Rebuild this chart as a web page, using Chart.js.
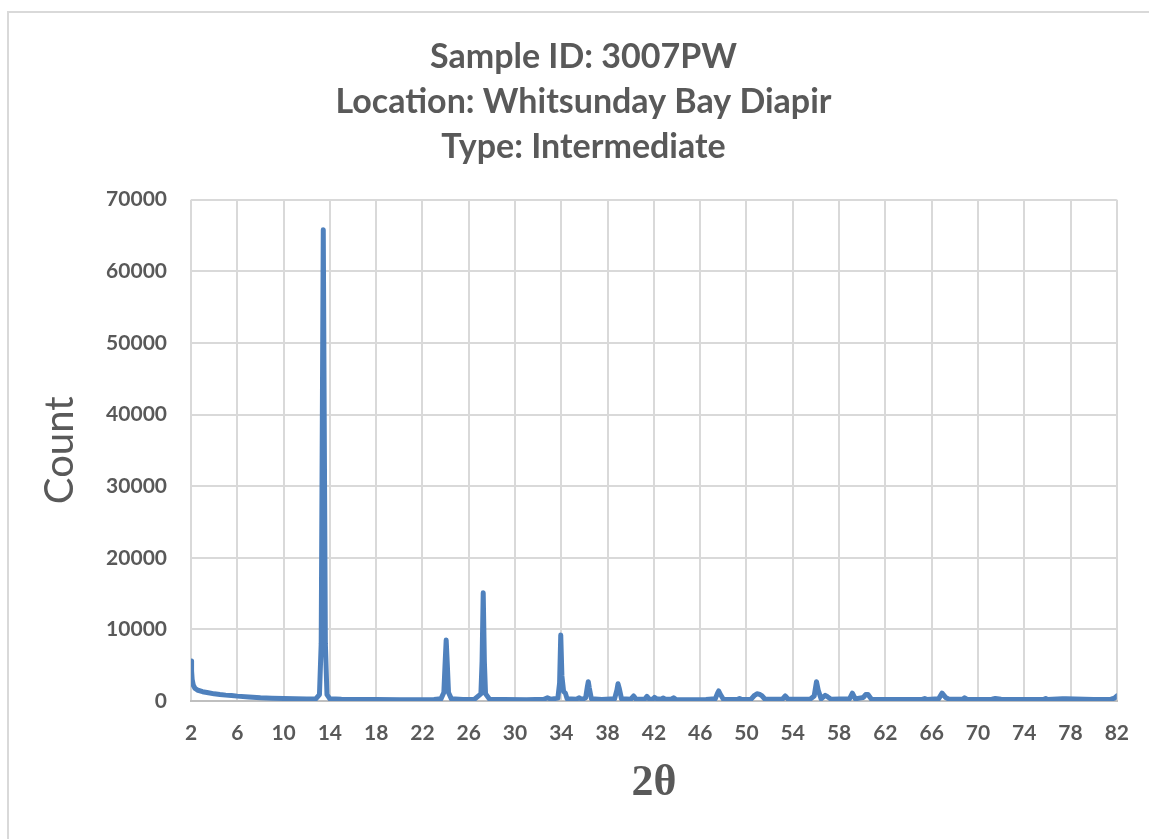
<!DOCTYPE html>
<html>
<head>
<meta charset="utf-8">
<script src="https://cdn.jsdelivr.net/npm/chart.js@4.4.1/dist/chart.umd.min.js"></script>
<style>
  html, body { margin: 0; padding: 0; background: #fff; }
  #frame { position: absolute; left: 7px; top: 11px; width: 1150px; height: 840px;
           border-left: 2px solid #d9d9d9; border-top: 2px solid #d9d9d9; }
  #wrap { position: absolute; left: 0; top: 0; width: 1149px; height: 839px; }
</style>
</head>
<body>
<div id="frame"></div>
<div id="wrap"><canvas id="xrdChart" width="1149" height="839"></canvas></div>
<script>
// Títulos
const titleLines = ['Sample ID: 3007PW', 'Location: Whitsunday Bay Diapir', 'Type: Intermediate'];
const xTitle = '2θ';
const yTitle = 'Count';

// Ejes
const xTicks = [2, 6, 10, 14, 18, 22, 26, 30, 34, 38, 42, 46, 50, 54, 58, 62, 66, 70, 74, 78, 82];
const yMin = 0, yMax = 70000, yStep = 10000;

// Difractograma (2θ, cuentas)
const twoTheta = [
  2.00, 2.05, 2.10, 2.20, 2.35, 2.60, 3.00, 3.50, 4.00, 4.50, 5.00, 5.50, 6.00, 7.00, 8.00, 9.00, 10.0, 11.0, 12.0,
  12.8, 13.1, 13.25, 13.35, 13.43, 13.51, 13.61, 13.75, 14.0, 15.0, 16.0, 18.0, 20.0, 22.0,
  23.0, 23.6, 23.85, 23.95, 24.05, 24.15, 24.25, 24.5, 25.5,
  26.5, 27.05, 27.15, 27.25, 27.35, 27.45, 27.8, 29.0, 31.0,
  32.5, 32.8, 33.1, 33.7, 33.85, 33.95, 34.05, 34.2, 34.35, 34.5,
  35.3, 35.55, 35.8, 36.1, 36.25, 36.33, 36.42, 36.6, 37.5,
  38.6, 38.8, 38.9, 39.0, 39.2, 40.0, 40.25, 40.45, 41.2, 41.4, 41.6,
  41.9, 42.05, 42.25, 42.6, 42.8, 43.0, 43.5, 43.7, 43.9, 45.0, 46.5,
  47.3, 47.5, 47.6, 47.75, 48.0, 49.2, 49.4, 49.6,
  50.4, 50.7, 50.9, 51.1, 51.35, 51.6, 53.1, 53.35, 53.6,
  55.5, 55.85, 56.05, 56.2, 56.45, 56.8, 57.0, 57.3,
  58.9, 59.15, 59.4, 60.1, 60.3, 60.5, 60.8, 62.0, 64.0,
  65.2, 65.4, 65.6, 66.6, 66.9, 67.2, 67.5, 68.7, 68.85, 69.1,
  71.2, 71.5, 72.0, 74.0, 75.7, 75.85, 76.0, 77.3, 77.6, 80.0, 81.5, 81.8, 82.0
];
const counts = [
  5600, 4200, 3000, 2200, 1750, 1500, 1300, 1150, 1000, 900, 820, 760, 680, 560, 460, 400, 350, 320, 290,
  320, 900, 8000, 40000, 65800, 40000, 8000, 900, 300, 240, 220, 200, 180, 170,
  200, 300, 1200, 5000, 8500, 5000, 1200, 300, 220,
  250, 1000, 5500, 15100, 5500, 1000, 250, 200, 180,
  250, 450, 250, 400, 2500, 9200, 3500, 1300, 1100, 300,
  250, 450, 200, 450, 2000, 2700, 1800, 300, 200,
  300, 1500, 2400, 1800, 300, 250, 700, 250, 250, 650, 250,
  250, 500, 300, 250, 400, 250, 250, 450, 200, 180, 200,
  300, 1100, 1400, 900, 250, 200, 350, 200,
  250, 800, 1000, 950, 700, 250, 250, 700, 250,
  250, 700, 2700, 1500, 300, 800, 600, 250,
  300, 1100, 300, 500, 900, 900, 250, 200, 200,
  220, 350, 200, 300, 1100, 500, 250, 250, 450, 200,
  250, 350, 250, 200, 250, 350, 200, 300, 300, 200, 250, 400, 700
];

const textColor = '#595959';
const gridColor = '#d9d9d9';
const lineColor = '#4f81bd';

const points = twoTheta.map((t, i) => ({ x: t, y: counts[i] }));

const ctx = document.getElementById('xrdChart').getContext('2d');
const chart = new Chart(ctx, {
  type: 'line',
  data: {
    datasets: [{
      label: yTitle,
      data: points,
      borderColor: lineColor,
      borderWidth: 5,
      borderJoinStyle: 'round',
      borderCapStyle: 'round',
      pointRadius: 0,
      tension: 0,
      fill: false
    }]
  },
  options: {
    responsive: false,
    animation: false,
    layout: { padding: { left: 50, right: 32, top: 0, bottom: 0 } },
    plugins: {
      legend: { display: false },
      tooltip: { enabled: false },
      title: {
        display: true,
        text: titleLines,
        color: textColor,
        font: { family: 'Lato', size: 34, weight: 'bold', lineHeight: 1.32 },
        padding: { top: 35, bottom: 30 }
      }
    },
    scales: {
      x: {
        type: 'linear',
        min: 2,
        max: 82,
        afterBuildTicks: axis => { axis.ticks = xTicks.map(v => ({ value: v })); },
        afterFit: scale => { scale.height = 138; },
        grid: { color: gridColor, lineWidth: 2, drawTicks: false },
        border: { color: '#bfbfbf', width: 2 },
        ticks: {
          color: textColor,
          padding: 20,
          maxRotation: 0,
          autoSkip: false,
          font: { family: 'Lato', size: 21, weight: 'bold' }
        },
        title: {
          display: true,
          text: xTitle,
          color: textColor,
          font: { family: 'Liberation Serif', size: 44, weight: 'bold', lineHeight: 1.2 },
          padding: { top: 0, bottom: 29 }
        }
      },
      y: {
        min: yMin,
        max: yMax,
        afterFit: scale => { scale.width = 141; },
        grid: { color: gridColor, lineWidth: 2, drawTicks: false },
        border: { display: false },
        ticks: {
          stepSize: yStep,
          color: textColor,
          padding: 24,
          callback: v => String(v),
          font: { family: 'Lato', size: 21, weight: 'bold' }
        },
        title: {
          display: true,
          text: yTitle,
          color: textColor,
          font: { family: 'Lato', size: 40, weight: 'normal', lineHeight: 0.5 },
          padding: { top: 0, bottom: 0 }
        }
      }
    }
  }
});
</script>
</body>
</html>
